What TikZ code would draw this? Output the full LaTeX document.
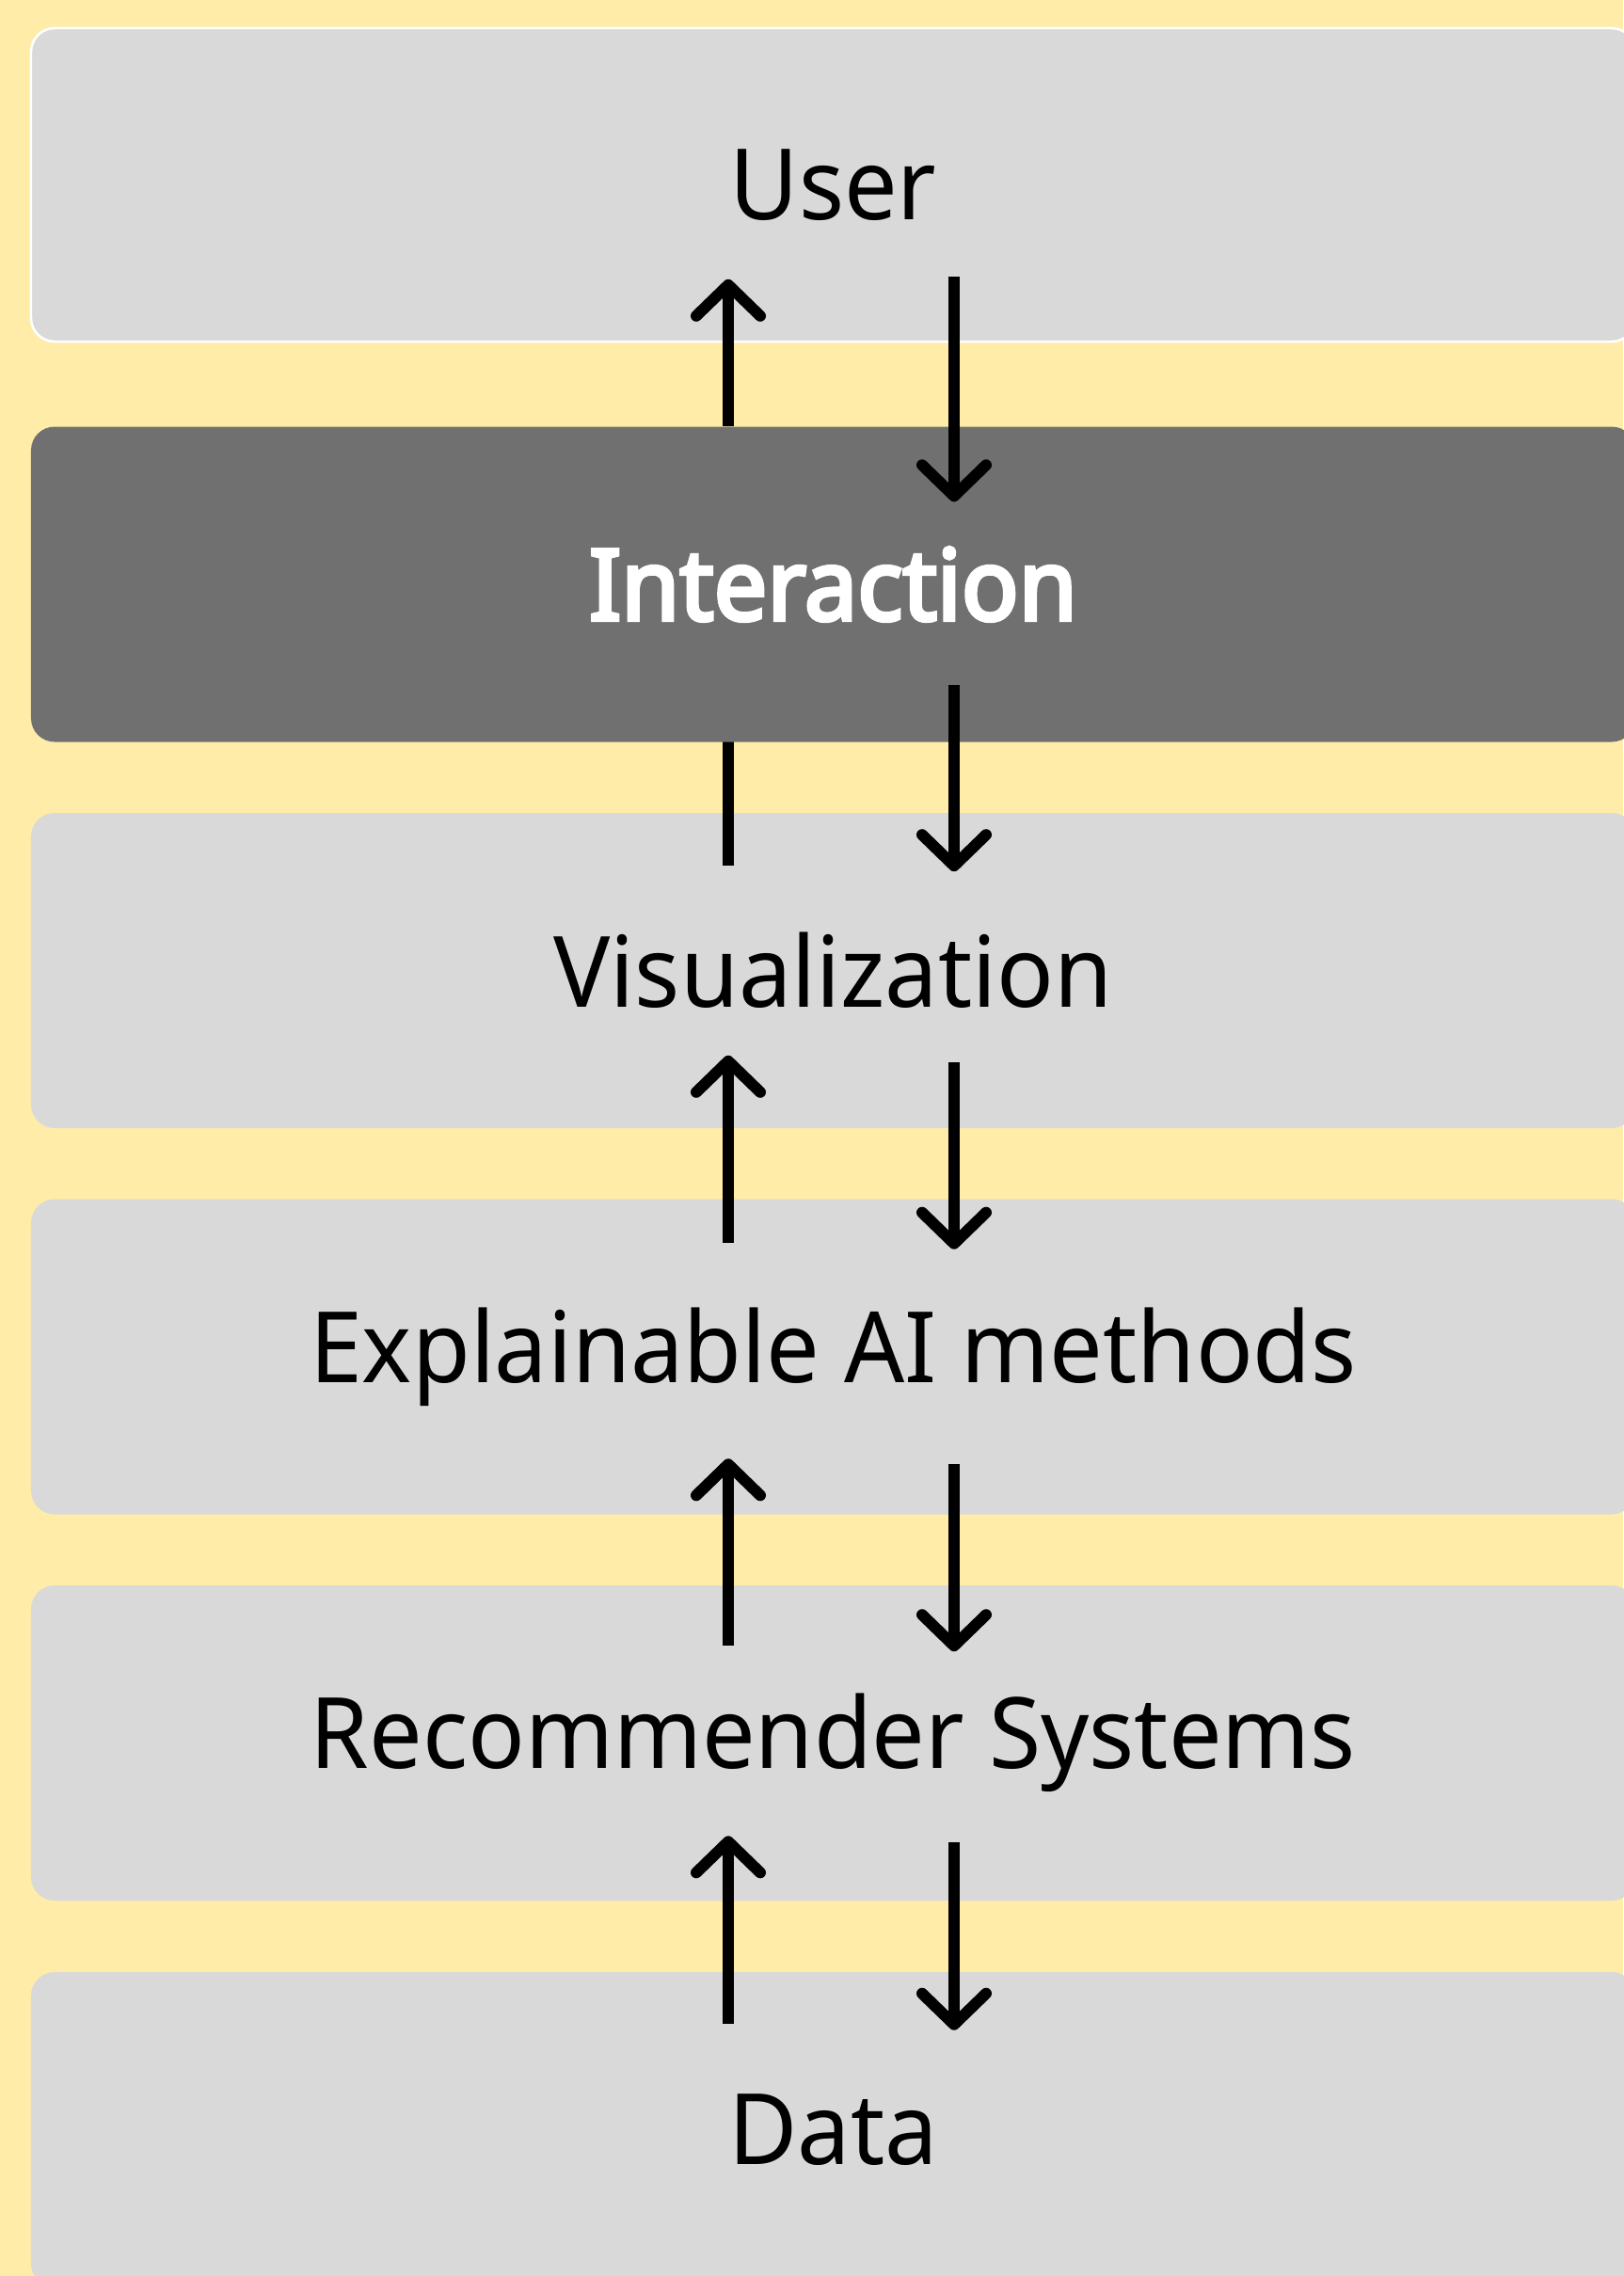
\documentclass[tikz,border=0pt]{standalone}
\usepackage{fontspec}
\setmainfont{Noto Sans}[FakeStretch=0.96]
\newfontfamily\heavyfont{Noto Sans}[FakeStretch=0.96, FakeBold=4]
\usetikzlibrary{arrows.meta}

\definecolor{bgyellow}{HTML}{FFECA9}
\definecolor{layergray}{HTML}{D9D9D9}
\definecolor{layerdark}{HTML}{707070}

\tikzset{
  layer/.style={rounded corners=0.25cm, fill=layergray, inner sep=0pt,
    minimum width=17.05cm, minimum height=3.35cm,
    font=\fontsize{29.8}{36}\selectfont},
  flow/.style={line width=0.12cm,
    -{Straight Barb[length=0.33cm, width=0.68cm, round]}},
}

\begin{document}
\begin{tikzpicture}
              \useasboundingbox (0, 0) rectangle (17.25, -24.19);
              \fill[bgyellow] (0, 0) rectangle (17.25, -24.19);
              \coordinate (upx) at (7.74, 0);
              \coordinate (dnx) at (10.14, 0);
              % the stack of layers
              \node[layer, draw=white, line width=0.025cm, minimum height=3.33cm] (user) at (8.855, -1.965) {User};
              \node[layer] (vis) at (8.855, -10.315) {Visualization};
              \node[layer] (xai) at (8.855, -14.42) {Explainable AI methods};
              \node[layer] (rec) at (8.855, -18.525) {Recommender Systems};
              \node[layer] (data) at (8.855, -22.635) {Data};
              % runs up behind the interaction layer
              \draw[flow] ([yshift=-0.57cm]upx |- vis.north) -- ++(0, 2.0);
              \node[layer, fill=layerdark, text=white, font=\fontsize{29.8}{36}\heavyfont] (inter) at (8.855, -6.21) {Interaction};
              % arrows between the layers
              \draw[flow] (upx |- inter.north) -- ++(0, 1.56);
              \draw[flow] ([yshift=0.70cm]dnx |- user.south) -- ++(0, -2.39);
              \draw[flow] ([yshift=0.61cm]dnx |- inter.south) -- ++(0, -1.98);
              \draw[flow] ([yshift=-0.47cm]upx |- xai.north) -- ++(0, 1.99);
              \draw[flow] ([yshift=0.71cm]dnx |- vis.south) -- ++(0, -1.99);
              \draw[flow] ([yshift=-0.65cm]upx |- rec.north) -- ++(0, 1.99);
              \draw[flow] ([yshift=0.54cm]dnx |- xai.south) -- ++(0, -1.99);
              \draw[flow] ([yshift=-0.56cm]upx |- data.north) -- ++(0, 2.0);
              \draw[flow] ([yshift=0.63cm]dnx |- rec.south) -- ++(0, -2.0);
            \end{tikzpicture}
\end{document}
